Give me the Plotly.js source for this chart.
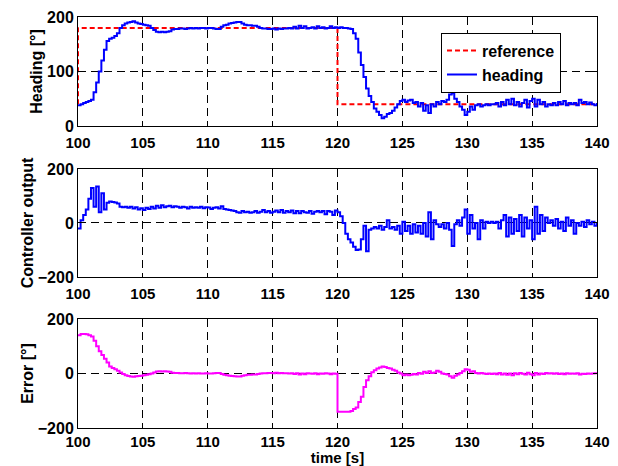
<!DOCTYPE html>
<html>
<head>
<meta charset="utf-8">
<script src="https://cdn.plot.ly/plotly-3.0.1.min.js"></script>
<style>html,body{margin:0;padding:0;background:#fff;}#chart{width:618px;height:466px;}</style>
</head>
<body>
<div id="chart"></div>
<script>
// Sampling: every 0.2 s from 100 s to 140 s
var tStart = 100;
var tStep = 0.2;

// Reference heading (step changes)
var refTime = [100, 100, 120, 120, 140];
var refHeading = [40, 180, 180, 40, 40];

// Measured heading [deg]
var heading = [
  38,40,42,44,46,48,62,80,100,120,
  140,156,160,162,165,170,180,185,188,190,
  191,192,190,188,187,186,185,184,180,176,
  173,172,173,172,173,174,177,178,178,179,
  179,178,179,180,179,180,179,180,180,179,
  180,180,179,178,178,182,185,186,188,189,
  190,191,191,188,186,185,185,184,184,182,
  180,179,179,178,178,179,177,179,178,179,
  179,180,179,182,179,184,180,183,179,180,
  181,179,183,180,181,179,180,183,180,181,
  180,181,180,180,179,178,170,160,135,112,
  90,69,55,44,32,26,20,14,17,22,
  24,28,34,40,46,48,44,47,48,42,
  44,36,42,28,38,24,40,36,44,40,
  46,44,48,58,60,50,44,36,30,20,
  26,36,30,38,40,36,38,40,38,40,
  40,42,36,44,38,48,40,50,38,44,
  36,42,48,34,46,50,36,48,40,44,
  36,40,38,42,38,44,40,46,38,42,
  40,42,38,48,42,44,40,43,40,38,
  42
];

// Controller output
var controller = [
  -20,10,30,50,90,130,60,135,40,110,
  50,75,80,78,76,72,60,58,60,56,
  60,54,58,50,55,48,56,52,60,54,
  64,56,66,58,62,64,58,62,60,56,
  60,58,54,60,56,58,56,60,55,58,
  57,52,56,58,54,62,52,50,48,46,
  44,40,38,44,40,42,38,40,44,38,
  42,48,40,44,38,42,46,40,48,38,
  44,40,46,36,44,36,44,40,38,44,
  34,42,44,40,44,32,44,42,30,46,
  40,25,0,-40,-60,-72,-88,-100,-98,-60,
  -10,-105,-25,-20,-15,-20,-10,-25,-15,10,
  -20,-15,-25,-10,-40,5,-30,-10,-40,-5,
  -35,-10,-40,0,-50,40,-60,10,-5,-15,
  -5,-20,0,-25,-85,-5,10,-10,20,50,
  -40,30,-20,0,-60,10,-20,5,0,5,
  0,5,-20,10,30,-50,20,-40,15,-30,
  30,-50,20,-20,10,-60,60,-40,30,-30,
  20,0,10,-10,15,-20,5,-30,20,-10,
  10,-40,0,-10,5,-15,10,-5,5,-10,
  0
];

// Heading error [deg]
var errorDeg = [
  140,145,145,144,140,136,120,100,82,68,
  54,40,26,20,16,10,4,-2,-6,-9,
  -11,-12,-10,-9,-8,-6,-5,-3,0,4,
  7,8,7,8,7,6,3,2,2,1,
  1,2,1,0,1,0,1,0,0,1,
  0,0,1,2,2,-2,-5,-6,-8,-9,
  -10,-11,-11,-8,-6,-5,-5,-4,-4,-2,
  0,1,1,2,2,1,3,1,2,1,
  1,0,1,-2,1,-4,0,-3,1,0,
  -1,1,-3,0,-1,1,0,-3,0,-1,
  -140,-140,-140,-140,-140,-138,-130,-125,-105,-85,
  -50,-25,-10,5,12,18,22,26,24,20,
  18,14,10,4,0,-6,-4,-6,-5,-2,
  -4,2,-1,6,2,8,2,4,10,6,
  0,-2,-4,-10,-16,-8,-4,2,8,16,
  14,6,8,2,0,2,0,-2,0,-2,
  0,-3,2,-4,0,-5,0,-6,1,-3,
  2,-1,-4,3,-3,-6,2,-4,0,-2,
  2,0,1,-1,1,-2,0,-3,1,-1,
  0,-1,1,-4,-1,-2,0,-1,0,1,
  -1
];

var xTicks = [100, 105, 110, 115, 120, 125, 130, 135, 140];
var yTicksTop = [0, 100, 200];
var yTicksOther = [-200, 0, 200];

var boldFont = {family: 'Liberation Sans, Arial, sans-serif', size: 16, color: '#000', weight: 'bold'};
var xTickFont = {family: 'Liberation Sans, Arial, sans-serif', size: 15, color: '#000', weight: 'bold'};
var xTitleFont = {family: 'Liberation Sans, Arial, sans-serif', size: 15, color: '#000', weight: 'bold'};

function xAxis(anchor, titleText, labelGap) {
  var a = {
    domain: [0, 1], range: [100, 140], anchor: anchor,
    tickvals: xTicks, ticks: 'inside', ticklen: 4, tickcolor: '#000',
    showline: true, mirror: 'ticks', linecolor: '#000', linewidth: 1,
    showgrid: true, gridcolor: '#000', gridwidth: 1, griddash: '8px,5px',
    zeroline: false, tickfont: xTickFont, fixedrange: true,
    ticklabelstandoff: labelGap
  };
  if (titleText) a.title = {text: titleText, font: xTitleFont, standoff: 2};
  return a;
}
function yAxis(anchor, domain, range, ticks, titleText) {
  return {
    domain: domain, range: range, anchor: anchor,
    tickvals: ticks, ticks: 'inside', ticklen: 4, tickcolor: '#000',
    showline: true, mirror: 'ticks', linecolor: '#000', linewidth: 1,
    showgrid: true, gridcolor: '#000', gridwidth: 1, griddash: '8px,5px',
    zeroline: false, tickfont: boldFont, fixedrange: true,
    title: {text: titleText, font: boldFont, standoff: 0}
  };
}

var traces = [
  {x: refTime, y: refHeading, type: 'scatter', mode: 'lines', name: 'reference',
   line: {color: '#ff0000', width: 2, dash: '5px,3px'}, xaxis: 'x', yaxis: 'y'},
  {y: heading, x0: tStart, dx: tStep, type: 'scatter', mode: 'lines', name: 'heading',
   line: {color: '#0000ff', width: 2, shape: 'hv'}, xaxis: 'x', yaxis: 'y'},
  {y: controller, x0: tStart, dx: tStep, type: 'scatter', mode: 'lines', name: 'controller',
   line: {color: '#0000ff', width: 2, shape: 'hv'}, xaxis: 'x2', yaxis: 'y2', showlegend: false},
  {y: errorDeg, x0: tStart, dx: tStep, type: 'scatter', mode: 'lines', name: 'error',
   line: {color: '#ff00ff', width: 2, shape: 'hv'}, xaxis: 'x3', yaxis: 'y3', showlegend: false}
];

var layout = {
  width: 618, height: 466,
  margin: {l: 78, r: 21, t: 17, b: 38},
  paper_bgcolor: '#fff', plot_bgcolor: '#fff',
  showlegend: true,
  legend: {x: 0.6994, y: 0.9618, xanchor: 'left', yanchor: 'top',
           bgcolor: '#fff', bordercolor: '#000', borderwidth: 1,
           font: boldFont, tracegroupgap: 0},
  xaxis: xAxis('y', null, 3),
  yaxis: yAxis('x', [0.7348, 1], [0, 200], yTicksTop, 'Heading [°]'),
  xaxis2: xAxis('y2', null, 3),
  yaxis2: yAxis('x2', [0.3674, 0.6302], [-200, 200], yTicksOther, 'Controller output'),
  xaxis3: xAxis('y3', 'time [s]', 0),
  yaxis3: yAxis('x3', [0, 0.2652], [-200, 200], yTicksOther, 'Error [°]')
};

Plotly.newPlot('chart', traces, layout, {displayModeBar: false, staticPlot: true});
</script>
</body>
</html>
